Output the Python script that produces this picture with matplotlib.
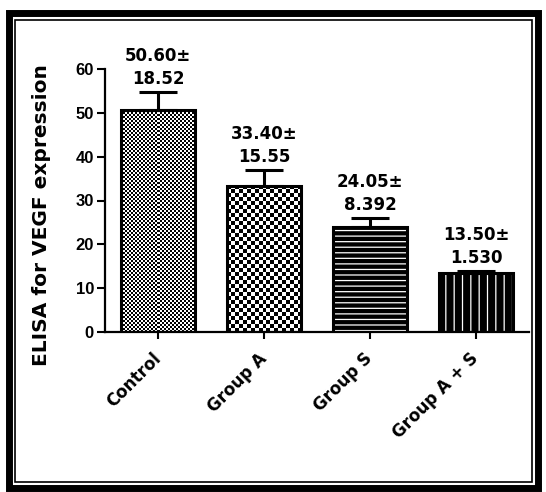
import numpy as np
import matplotlib
matplotlib.use('Agg')
import matplotlib.pyplot as plt
from matplotlib.patches import Rectangle

# data
groups = ['Control', 'Group A', 'Group S', 'Group A + S']
means = [50.60, 33.40, 24.05, 13.50]
sds = ['18.52', '15.55', '8.392', '1.530']
errs = [4.14, 3.48, 1.88, 0.34]   # upper error bars as drawn
yticks = [0, 10, 20, 30, 40, 50, 60]

plt.rcParams['hatch.linewidth'] = 0.9

fig = plt.figure(figsize=(5.46, 4.92), dpi=100)
ax = fig.add_axes([105/546, 1-332/492, 424/546, 263/492])

x = np.arange(len(groups))
w = 0.7
bars = ax.bar(x, means, w, facecolor='none', edgecolor='black', linewidth=2.2, zorder=4)

ax.set_xlim(-0.5, 3.5)
ax.set_ylim(0, 60)

# pixel scale of data units, used to size textures
p0 = ax.transData.transform((0, 0))
p1 = ax.transData.transform((1, 1))
pxx, pxy = p1[0]-p0[0], p1[1]-p0[1]

def checker(i, cell):
    b = bars[i]
    x0, wd, h = b.get_x(), b.get_width(), b.get_height()
    nx = int(round(wd*pxx/cell))
    ny = int(round(h*pxy/cell))
    arr = np.indices((ny, nx)).sum(0) % 2
    im = ax.imshow(arr, cmap='gray', extent=(x0, x0+wd, 0, h), origin='lower',
                   aspect='auto', interpolation='nearest', zorder=2)
    im.set_clip_path(b)

checker(0, 2)
checker(1, 4)

# line patterns for the other two bars
ax.bar(x[2], means[2], w, facecolor='black', edgecolor='white', hatch='---', linewidth=0, zorder=2)
ax.bar(x[3], means[3], w, facecolor='black', edgecolor='white', hatch='||', linewidth=0, zorder=2)

ax.errorbar(x, means, yerr=[[0]*4, errs], fmt='none', ecolor='black',
            elinewidth=2.2, capsize=14, capthick=2.2, zorder=5)

for i in range(len(groups)):
    ax.annotate(f'{means[i]:.2f}±\n{sds[i]}', (x[i], means[i]+errs[i]),
                xytext=(0, 3), textcoords='offset points', ha='center', va='bottom',
                fontsize=12, fontweight='bold', family='DejaVu Sans',
                linespacing=1.35, annotation_clip=False)

ax.spines['top'].set_visible(False)
ax.spines['right'].set_visible(False)
ax.spines['left'].set_linewidth(1.6)
ax.spines['bottom'].set_linewidth(1.6)

ax.set_yticks(yticks)
ax.set_yticklabels([str(t) for t in yticks], fontsize=12, fontweight='bold', family='Liberation Sans')
ax.tick_params(axis='y', length=6, width=1.5, pad=2)
ax.set_xticks(x)
ax.set_xticklabels(groups, rotation=45, ha='right', va='center', rotation_mode='anchor',
                   fontsize=12, fontweight='bold', family='DejaVu Sans')
ax.tick_params(axis='x', length=5, width=1.5, pad=12)

fig.text(42/546, 1-215/492, 'ELISA for VEGF expression', rotation=90, ha='center', va='center',
         fontsize=14.5, fontweight='bold', family='DejaVu Sans')

# double frame round the figure
W, H = 546, 492
fig.patches.append(Rectangle((8.5/W, 1-487.5/H), 529/W, 475/H, transform=fig.transFigure,
                             fill=False, edgecolor='black', linewidth=5))
fig.patches.append(Rectangle((14.5/W, 1-481.5/H), 517/W, 462/H, transform=fig.transFigure,
                             fill=False, edgecolor='black', linewidth=1.2))

fig.savefig('out.png', dpi=100)
